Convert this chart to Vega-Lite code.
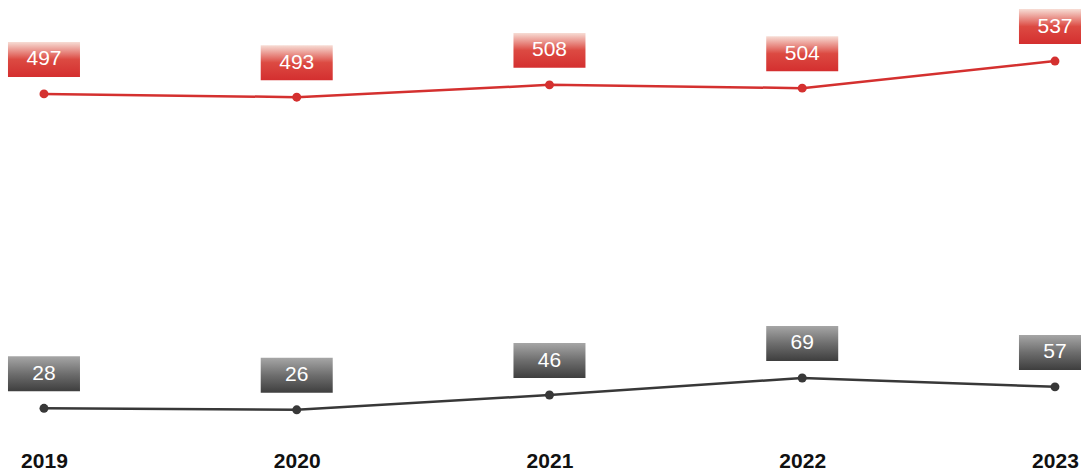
{
  "$schema": "https://vega.github.io/schema/vega-lite/v6.json",
  "width": 1081,
  "height": 445,
  "padding": {"top": 0, "left": 0, "right": 0, "bottom": 27},
  "autosize": {"type": "none"},
  "background": "#ffffff",
  "config": {
    "view": {"stroke": null},
    "font": "Liberation Sans"
  },
  "datasets": {
    "upper": [
      {"year": 2019, "value": 497},
      {"year": 2020, "value": 493},
      {"year": 2021, "value": 508},
      {"year": 2022, "value": 504},
      {"year": 2023, "value": 537}
    ],
    "lower": [
      {"year": 2019, "value": 28},
      {"year": 2020, "value": 26},
      {"year": 2021, "value": 46},
      {"year": 2022, "value": 69},
      {"year": 2023, "value": 57}
    ]
  },
  "encoding": {
    "x": {
      "field": "year",
      "type": "quantitative",
      "scale": {"domain": [2018.826, 2023.103], "nice": false, "zero": false},
      "axis": {
        "title": null,
        "values": [2019, 2020, 2021, 2022, 2023],
        "format": "d",
        "domain": false,
        "ticks": false,
        "grid": false,
        "labelFlush": false,
        "labelBaseline": "bottom",
        "labelPadding": 26,
        "labelFontSize": 21,
        "labelFontWeight": "bold",
        "labelColor": "#111111",
        "labelFont": "Liberation Sans"
      }
    }
  },
  "layer": [
    {
      "data": {"name": "upper"},
      "encoding": {
        "y": {
          "field": "value",
          "type": "quantitative",
          "scale": {"domain": [69.2, 611.4], "nice": false, "zero": false},
          "axis": null
        }
      },
      "layer": [
        {"mark": {"type": "line", "color": "#d4302f", "strokeWidth": 2.5}},
        {"mark": {"type": "point", "filled": true, "color": "#d4302f", "size": 80, "opacity": 1}},
        {
          "mark": {
            "type": "point",
            "shape": "M-1,-1.444H1V-0.472H-1Z",
            "size": 5184,
            "filled": true,
            "opacity": 1,
            "strokeWidth": 0,
            "fill": {
              "gradient": "linear",
              "x1": 0, "y1": 0, "x2": 0, "y2": 1,
              "stops": [
                {"offset": 0, "color": "#f7ddd5"},
                {"offset": 0.5, "color": "#dc4a42"},
                {"offset": 1, "color": "#d42f2f"}
              ]
            }
          }
        },
        {
          "mark": {
            "type": "text",
            "yOffset": -34.5,
            "baseline": "middle",
            "align": "center",
            "fontSize": 21,
            "color": "#ffffff",
            "font": "Liberation Sans"
          },
          "encoding": {"text": {"field": "value", "type": "quantitative"}}
        }
      ]
    },
    {
      "data": {"name": "lower"},
      "encoding": {
        "y": {
          "field": "value",
          "type": "quantitative",
          "scale": {"domain": [-21.6, 580.1], "nice": false, "zero": false},
          "axis": null
        }
      },
      "layer": [
        {"mark": {"type": "line", "color": "#383838", "strokeWidth": 2.5}},
        {"mark": {"type": "point", "filled": true, "color": "#383838", "size": 80, "opacity": 1}},
        {
          "mark": {
            "type": "point",
            "shape": "M-1,-1.444H1V-0.472H-1Z",
            "size": 5184,
            "filled": true,
            "opacity": 1,
            "strokeWidth": 0,
            "fill": {
              "gradient": "linear",
              "x1": 0, "y1": 0, "x2": 0, "y2": 1,
              "stops": [
                {"offset": 0, "color": "#a6a6a6"},
                {"offset": 0.5, "color": "#6e6e6e"},
                {"offset": 1, "color": "#3e3e3e"}
              ]
            }
          }
        },
        {
          "mark": {
            "type": "text",
            "yOffset": -34.5,
            "baseline": "middle",
            "align": "center",
            "fontSize": 21,
            "color": "#ffffff",
            "font": "Liberation Sans"
          },
          "encoding": {"text": {"field": "value", "type": "quantitative"}}
        }
      ]
    }
  ],
  "resolve": {"scale": {"y": "independent"}}
}
